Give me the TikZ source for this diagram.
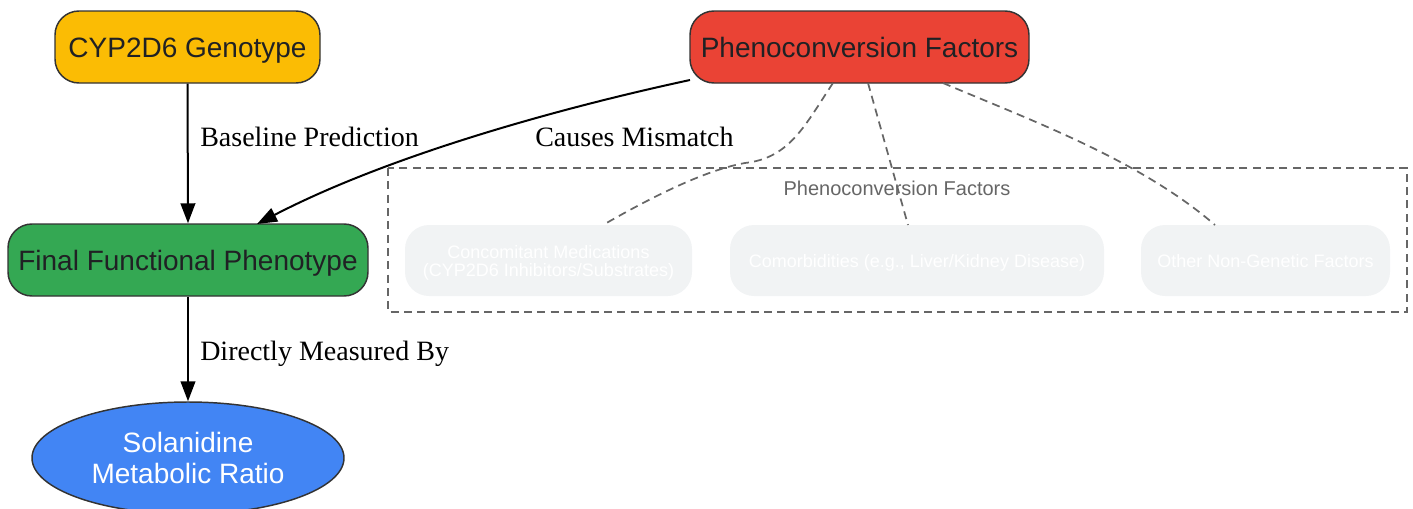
\documentclass[tikz,border=0pt]{standalone}
\usepackage{fontspec}
\setmainfont{Liberation Serif}
\newfontfamily\arialf{Liberation Sans}
\usetikzlibrary{arrows.meta,shapes.geometric}
\definecolor{cyel}{HTML}{FBBC04}
\definecolor{cred}{HTML}{EA4335}
\definecolor{cgrn}{HTML}{34A853}
\definecolor{cblu}{HTML}{4285F4}
\definecolor{cltg}{HTML}{F1F3F4}
\definecolor{cdrk}{HTML}{333333}
\definecolor{ctxt}{HTML}{202124}
\definecolor{cgry}{HTML}{666666}
\tikzset{
  mainbox/.style={draw=cdrk, line width=1.1pt, rounded corners=18pt, minimum height=54pt,
    inner sep=0pt, text=ctxt, text height=16pt, text depth=0pt, font=\arialf\fontsize{21}{25}\selectfont},
  subbox/.style={fill=cltg, draw=none, rounded corners=18pt, minimum height=53.25pt,
    inner sep=0pt, text=white, align=center, text depth=0pt, font=\arialf\fontsize{13.5}{13.5}\selectfont},
  elab/.style={font=\fontsize{21}{25}\selectfont, text=black, anchor=base west, inner sep=0pt},
  solid edge/.style={line width=1.5pt, draw=black, -{Triangle[length=15pt,width=11pt]}},
  dash edge/.style={line width=1.3pt, draw=cgry, dash pattern=on 6pt off 4pt},
}
\begin{document}
\begin{tikzpicture}[x=0.75pt,y=-0.75pt]
\useasboundingbox (0,0) rectangle (1413,508);
% cluster
\draw[cgry, line width=1.3pt, dash pattern=on 6pt off 4pt] (388,168) rectangle (1407,312);
\node[text=cgry, font=\arialf\fontsize{15}{18}\selectfont, inner sep=0pt] (clab) at (897,188) {Phenoconversion Factors};
% main nodes
\node[mainbox, fill=cyel, minimum width=198.75pt] (geno) at (187.5,47) {CYP2D6 Genotype};
\node[mainbox, fill=cred, minimum width=254.25pt] (pheno) at (859.5,47) {Phenoconversion Factors};
\node[mainbox, fill=cgrn, minimum width=270pt] (final) at (188,260) {Final Functional Phenotype};
\node[ellipse, draw=cdrk, line width=1.1pt, fill=cblu, minimum width=234pt, minimum height=84pt,
  inner sep=0pt, text=white, align=center, font=\arialf\fontsize{21}{23.5}\selectfont] (sol) at (188,458)
  {Solanidine\\Metabolic Ratio};
% sub nodes
\node[subbox, minimum width=215.25pt] (conc) at (548.5,260.5) {Concomitant Medications\\(CYP2D6 Inhibitors/Substrates)};
\node[subbox, minimum width=280.5pt] (como) at (917,260.5) {Comorbidities (e.g., Liver/Kidney Disease)};
\node[subbox, minimum width=186.75pt] (other) at (1265.5,260.5) {Other Non-Genetic Factors};
% coordinates for edge ends
\coordinate (pA) at (690,80);
\coordinate (fA) at (257,224);
\coordinate (pB) at (833,83);
\coordinate (cB) at (603,225);
\coordinate (pC) at (868,83);
\coordinate (cC) at (908,225);
\coordinate (pD) at (943,83);
\coordinate (cD) at (1215,225);
% solid edges
\draw[solid edge] (geno.south) -- (final.north);
\draw[solid edge] (final.south) -- (sol.north);
\draw[solid edge] (pA) .. controls (560,108) and (390,155) .. (fA);
% labels
\node[elab] (l1) at (200,146) {Baseline Prediction};
\node[elab] (l2) at (535,146) {Causes Mismatch};
\node[elab] (l3) at (200,360) {Directly Measured By};
% dashed edges
\draw[dash edge] (pB) .. controls (805,125) and (790,158) .. (745,163) .. controls (705,170) and (650,198) .. (cB);
\draw[dash edge] (pC) -- (cC);
\draw[dash edge] (pD) .. controls (1030,120) and (1140,160) .. (cD);
\end{tikzpicture}
\end{document}
